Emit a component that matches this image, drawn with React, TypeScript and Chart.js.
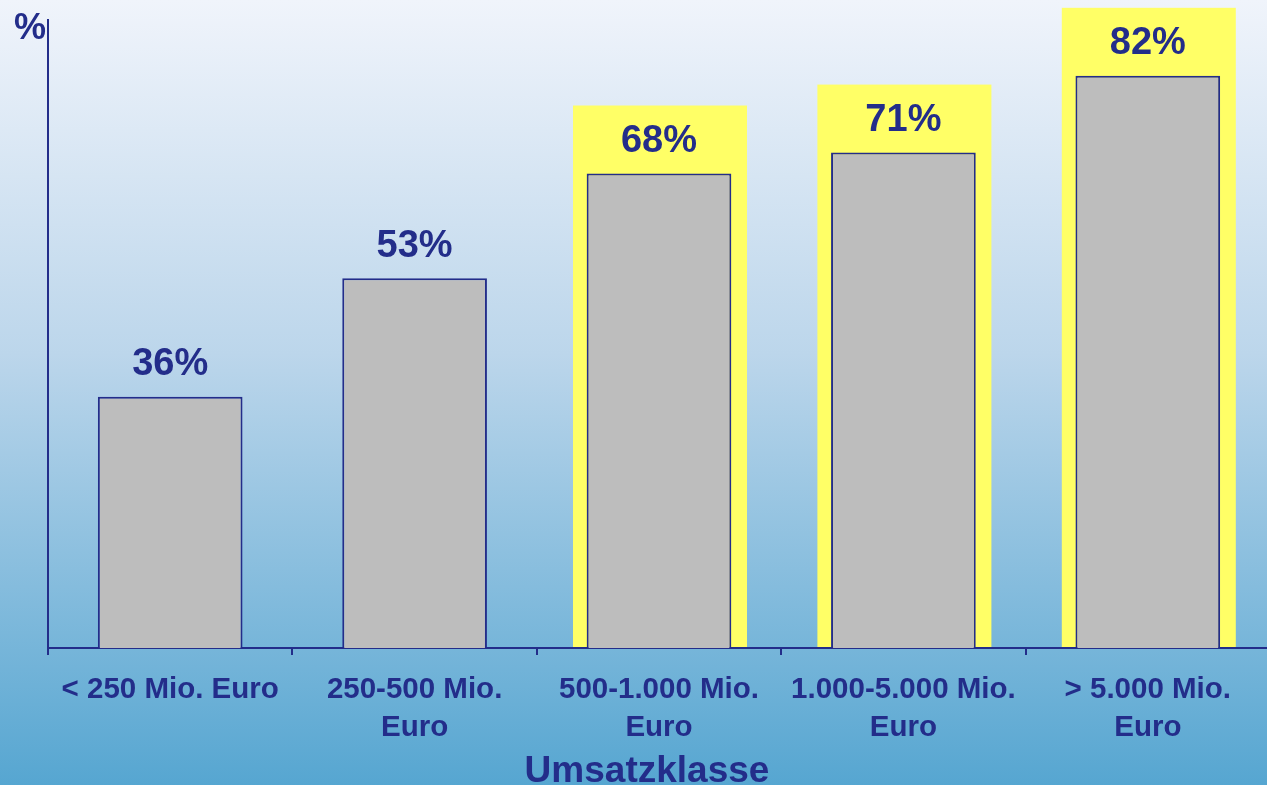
import React, { useEffect, useRef } from "react";
import { Chart, registerables } from "chart.js";

Chart.register(...registerables);

const categories: (string | string[])[] = [
  "< 250 Mio. Euro",
  ["250-500 Mio.", "Euro"],
  ["500-1.000 Mio.", "Euro"],
  ["1.000-5.000 Mio.", "Euro"],
  ["> 5.000 Mio.", "Euro"],
];
const values: number[] = [36, 53, 68, 71, 82];
const highlighted: boolean[] = [false, false, true, true, true];
const valueLabels: string[] = ["36%", "53%", "68%", "71%", "82%"];
const yAxisLabel = "%";
const xAxisTitle = "Umsatzklasse";

const NAVY = "#232d8a";
const FONT = "'Liberation Sans', Arial, Helvetica, sans-serif";

export default function App() {
  const ref = useRef<HTMLCanvasElement | null>(null);

  useEffect(() => {
    document.body.style.margin = "0";
    const canvas = ref.current!;
    const bgPlugin = {
      id: "bg",
      beforeDraw(chart: any) {
        const { ctx, width, height } = chart;
        const g = ctx.createLinearGradient(0, 0, 0, height);
        g.addColorStop(0, "#f0f4fb");
        g.addColorStop(0.45, "#bcd6eb");
        g.addColorStop(1, "#56a6d1");
        ctx.save();
        ctx.fillStyle = g;
        ctx.fillRect(0, 0, width, height);
        ctx.restore();
      },
    };
    const highlightPlugin = {
      id: "highlight",
      beforeDatasetsDraw(chart: any) {
        const { ctx, chartArea } = chart;
        const meta = chart.getDatasetMeta(0);
        ctx.save();
        ctx.fillStyle = "#ffff66";
        meta.data.forEach((bar: any, i: number) => {
          if (!highlighted[i]) return;
          const w = 174;
          const top = bar.y - 68;
          ctx.fillRect(bar.x - w / 2 + 1, top, w, chartArea.bottom - 1 - top);
        });
        ctx.restore();
      },
    };
    const labelPlugin = {
      id: "labels",
      afterDatasetsDraw(chart: any) {
        const { ctx } = chart;
        const meta = chart.getDatasetMeta(0);
        ctx.save();
        ctx.fillStyle = NAVY;
        ctx.font = `bold 38px ${FONT}`;
        ctx.textAlign = "center";
        ctx.textBaseline = "middle";
        meta.data.forEach((bar: any, i: number) => {
          ctx.fillText(valueLabels[i], bar.x, bar.y - 32);
        });
        // "%" axis label
        ctx.font = `bold 36px ${FONT}`;
        ctx.fillText(yAxisLabel, 30, 29);
        // x axis title
        ctx.font = `bold 37px ${FONT}`;
        ctx.textBaseline = "alphabetic";
        ctx.fillText(xAxisTitle, 647, 782);
        ctx.restore();
      },
    };

    const chart = new Chart(canvas, {
      type: "bar",
      data: {
        labels: categories,
        datasets: [
          {
            data: values,
            backgroundColor: "#bdbdbd",
            borderColor: NAVY,
            borderWidth: 2,
            barPercentage: 0.592,
            categoryPercentage: 1,
          },
        ],
      },
      options: {
        responsive: false,
        animation: false,
        layout: { padding: { top: 20, left: 0, right: 0, bottom: 0 } },
        plugins: {
          legend: { display: false },
          tooltip: { enabled: false },
        },
        scales: {
          x: {
            offset: true,
            grid: {
              display: true,
              offset: true,
              drawOnChartArea: false,
              drawTicks: true,
              tickLength: 7,
              color: NAVY,
              lineWidth: 2,
            },
            border: { display: true, color: NAVY, width: 2 },
            ticks: {
              color: NAVY,
              font: { family: FONT, size: 29.5, weight: "bold", lineHeight: 38 / 29.5 },
              padding: 16,
              maxRotation: 0,
              autoSkip: false,
            },
            afterFit(scale: any) {
              scale.height = 137;
            },
          },
          y: {
            min: 0,
            max: 90,
            grid: { display: false },
            border: { display: true, color: NAVY, width: 2 },
            ticks: { display: false },
            afterFit(scale: any) {
              scale.width = 48;
            },
          },
        },
      },
      plugins: [bgPlugin, highlightPlugin, labelPlugin],
    } as any);
    return () => chart.destroy();
  }, []);

  return (
    <div style={{ position: "fixed", left: 0, top: 0, width: 1267, height: 785, overflow: "hidden" }}>
      <canvas ref={ref} width={1270} height={785} style={{ display: "block" }} />
    </div>
  );
}
